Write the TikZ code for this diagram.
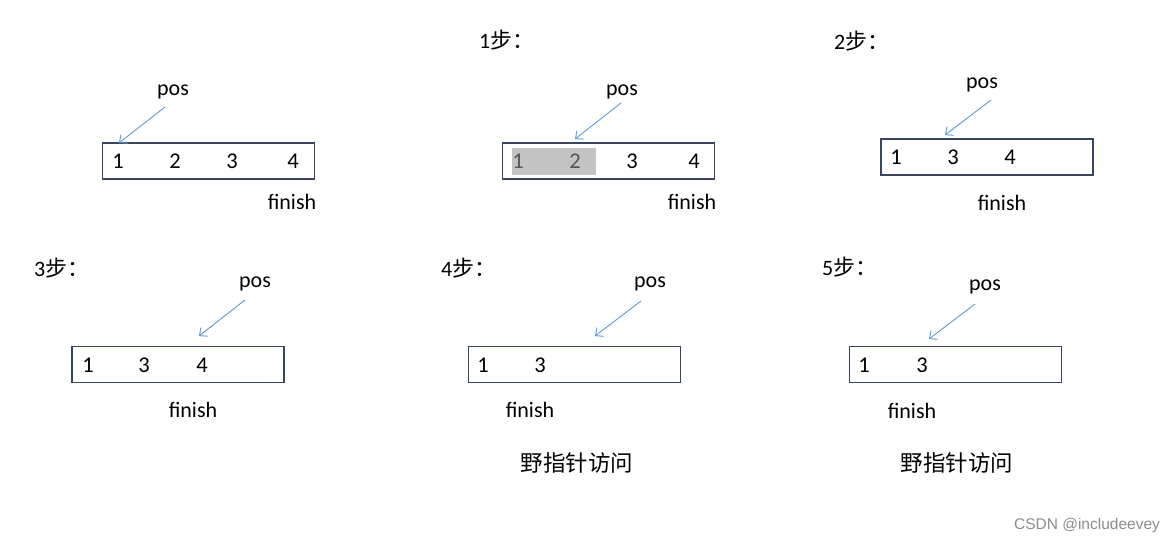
\documentclass[tikz,border=0pt]{standalone}
\usepackage{fontspec}
\setmainfont{Carlito}
\newfontfamily\cjk{Noto Sans CJK SC}
\newfontfamily\wmfont{Liberation Sans}
\usetikzlibrary{arrows.meta}
\definecolor{boxc}{HTML}{3A4660}
\definecolor{ptrc}{HTML}{5B9BD5}
\definecolor{shade}{HTML}{C3C3C3}
\definecolor{dimtxt}{HTML}{555555}
\tikzset{
  cell/.style={draw=boxc, line width=1.3pt, minimum width=212pt, minimum height=36pt, inner sep=0pt},
  num/.style={inner sep=0pt, font=\fontsize{22.5}{25}\selectfont},
  lbl/.style={inner sep=0pt, font=\fontsize{22}{25}\selectfont},
  steplbl/.style={inner sep=0pt, anchor=west, font=\fontsize{22}{25}\selectfont},
  wild/.style={inner sep=0pt, font=\cjk\fontsize{22.5}{26}\selectfont},
  ptr/.style={draw=ptrc, line width=0.9pt, -{Straight Barb[length=6pt,width=11pt]}},
}
\begin{document}
\begin{tikzpicture}[x=1pt,y=-1pt]
\useasboundingbox[fill=white] (0,0) rectangle (1176,543);

% ---- panel 0 ----
\node[cell] (b0) at (208.5,161) {};
\node[num] (b0n1) at (118,161) {1};
\node[num] (b0n2) at (175,161) {2};
\node[num] (b0n3) at (232,161) {3};
\node[num] (b0n4) at (293,161) {4};
\node[lbl] (p0) at (173,92) {pos};
\node[lbl] (f0) at (292,202) {finish};
\coordinate (s0) at (165,107);
\coordinate (e0) at (119,143);
\draw[ptr] (s0) -- (e0);

% ---- panel 1 ----
\node[steplbl] (t1) at (479,40) {1{\cjk 步：}};
\node[cell] (b1) at (608.5,161) {};
\node[fill=shade, minimum width=84pt, minimum height=27pt, inner sep=0pt] (g1) at (554,161.5) {};
\node[num, text=dimtxt] (b1n1) at (518,161) {1};
\node[num, text=dimtxt] (b1n2) at (575,161) {2};
\node[num] (b1n3) at (632,161) {3};
\node[num] (b1n4) at (694,161) {4};
\node[lbl] (p1) at (622,92) {pos};
\node[lbl] (f1) at (692,202) {finish};
\coordinate (s1) at (621,103);
\coordinate (e1) at (575,139);
\draw[ptr] (s1) -- (e1);

% ---- panel 2 ----
\node[steplbl] (t2) at (834,41) {2{\cjk 步：}};
\node[cell] (b2) at (987,157) {};
\node[num] (b2n1) at (896,157) {1};
\node[num] (b2n3) at (953,157) {3};
\node[num] (b2n4) at (1010,157) {4};
\node[lbl] (p2) at (982,85) {pos};
\node[lbl] (f2) at (1002,203) {finish};
\coordinate (s2) at (991,100);
\coordinate (e2) at (945,135);
\draw[ptr] (s2) -- (e2);

% ---- panel 3 ----
\node[steplbl] (t3) at (34,268) {3{\cjk 步：}};
\node[cell] (b3) at (178,364.5) {};
\node[num] (b3n1) at (88,365) {1};
\node[num] (b3n3) at (144,365) {3};
\node[num] (b3n4) at (202,365) {4};
\node[lbl] (p3) at (255,284) {pos};
\node[lbl] (f3) at (193,410) {finish};
\coordinate (s3) at (245,300);
\coordinate (e3) at (199,336);
\draw[ptr] (s3) -- (e3);

% ---- panel 4 ----
\node[steplbl] (t4) at (441,268) {4{\cjk 步：}};
\node[cell] (b4) at (574.5,364.5) {};
\node[num] (b4n1) at (483,365) {1};
\node[num] (b4n3) at (540,365) {3};
\node[lbl] (p4) at (650,284) {pos};
\node[lbl] (f4) at (530,410) {finish};
\coordinate (s4) at (641,301);
\coordinate (e4) at (595,336);
\draw[ptr] (s4) -- (e4);
\node[wild] (w4) at (577,463) {野指针访问};

% ---- panel 5 ----
\node[steplbl] (t5) at (822,267) {5{\cjk 步：}};
\node[cell] (b5) at (955.5,364.5) {};
\node[num] (b5n1) at (864,365) {1};
\node[num] (b5n3) at (922,365) {3};
\node[lbl] (p5) at (985,287) {pos};
\node[lbl] (f5) at (912,411) {finish};
\coordinate (s5) at (975,304);
\coordinate (e5) at (929,339);
\draw[ptr] (s5) -- (e5);
\node[wild] (w5) at (957,463) {野指针访问};

% watermark
\node[inner sep=0pt, text=black!45, font=\wmfont\fontsize{15.5}{18}\selectfont] (wm) at (1087,525) {CSDN @includeevey};
\end{tikzpicture}
\end{document}
